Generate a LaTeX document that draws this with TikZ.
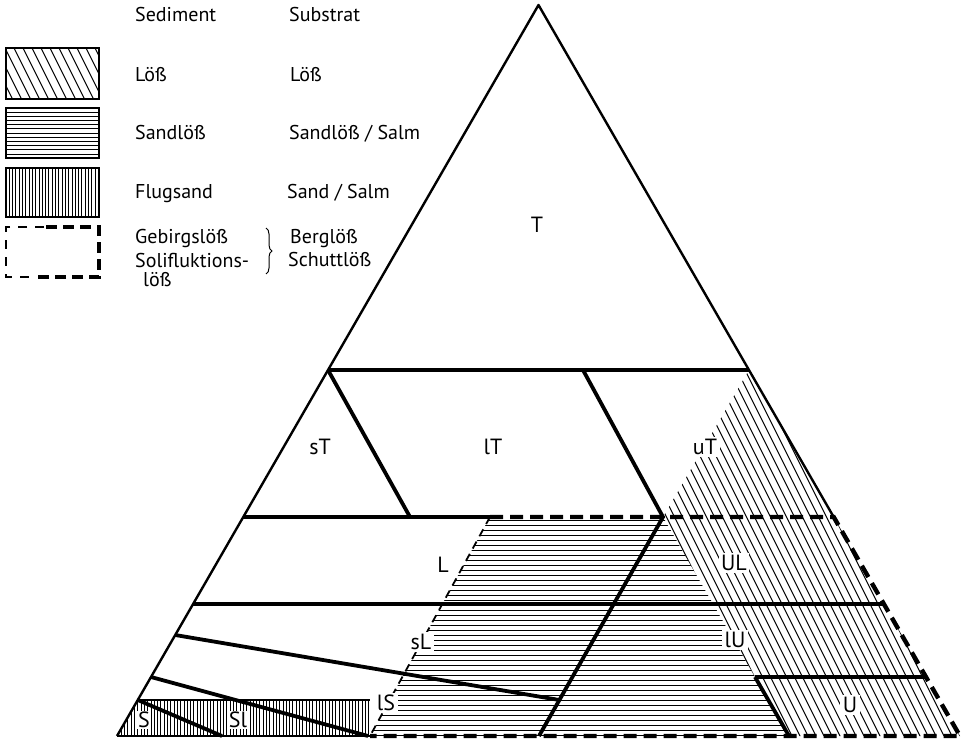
\documentclass[tikz,border=0pt]{standalone}
\usepackage{fontspec}
\setmainfont{PT Sans}
\usetikzlibrary{decorations.pathreplacing}
\begin{document}
\begin{tikzpicture}[x=1pt,y=-1pt,
  edge/.style={line width=2.4pt, line join=round},
  bold/.style={line width=3.8pt},
  hatch/.style={line width=1pt},
  gdash/.style={line width=4.4pt, dash pattern=on 13pt off 7pt},
  tdash/.style={line width=1.8pt, dash pattern=on 8pt off 6pt},
  lab/.style={font=\fontsize{22}{24}\selectfont, inner sep=2.5pt},
  wlab/.style={lab, fill=white},
  leg/.style={font=\fontsize{20}{22}\selectfont, anchor=base west, inner sep=0pt},
  legbox/.style={line width=2.4pt}
]
\useasboundingbox (0,0) rectangle (967,741);

% triangle corners and boundary points
\coordinate (A) at (117,736);
\coordinate (B) at (960,736);
\coordinate (C) at (538.5,5);
\coordinate (L50) at (328,370);
\coordinate (R50) at (749,370);
\coordinate (L30) at (243.3,517);
\coordinate (R30) at (833.7,517);
\coordinate (L18) at (193.1,604);
\coordinate (R18) at (883.9,604);
\coordinate (R8) at (926,677);
\coordinate (P1) at (410,517);
\coordinate (P2) at (583,370);
\coordinate (P3) at (663,517);
\coordinate (P4) at (539,736);
\coordinate (L14) at (175.2,635);
\coordinate (P5) at (559.4,700);
\coordinate (L8) at (151,677);
\coordinate (P6) at (368,736);
\coordinate (L5) at (137.8,700);
\coordinate (P7) at (222,736);
\coordinate (F1) at (370,700);
\coordinate (F2) at (370,736);
\coordinate (D1) at (490,517);
\coordinate (D2) at (370,736);
\coordinate (U1) at (755,677);
\coordinate (U2) at (789,736);

% hatching: Löß
\begin{scope}
  \clip (R50) -- (B) -- (U2) -- (U1) -- (P3) -- cycle;
  \foreach \x in {460,468,...,968} \draw[hatch] (\x,360) -- ++(195,390);
\end{scope}
% hatching: Sandlöß
\begin{scope}
  \clip (D1) -- (P3) -- (U1) -- (U2) -- (D2) -- cycle;
  \foreach \y in {520,525,...,736} \draw[hatch] (360,\y) -- (800,\y);
\end{scope}
% hatching: Flugsand
\begin{scope}
  \clip (L5) -- (F1) -- (F2) -- (A) -- cycle;
  \foreach \i in {0,...,77} \draw[line width=0.9pt] ({118+3.3*\i},696) -- ++(0,44);
\end{scope}

% outline
\draw[edge] (A) -- (C) -- (R30);
\draw[edge] (A) -- (F2);
\draw[gdash] (D1) -- (R30) -- (B) -- (D2);
\draw[tdash] (D1) -- (D2);

% class boundaries
\draw[bold] (L50) -- (R50);
\draw[bold] (L50) -- (P1);
\draw[bold] (P2) -- (P3) -- (P4);
\draw[bold] (L30) -- (D1);
\draw[bold] (L18) -- (R18);
\draw[bold] (U1) -- (R8);
\draw[bold] (U1) -- (U2);
\draw[bold] (L14) -- (P5);
\draw[bold] (L8) -- (P6);
\draw[bold] (L5) -- (P7);
\draw[line width=1.8pt] (L5) -- (F1);

% class labels
\node[lab] (nT) at (537,225) {T};
\node[lab] (nsT) at (320,447) {sT};
\node[lab] (nlT) at (493,447) {lT};
\node[wlab] (nuT) at (705,447) {uT};
\node[lab] (nL) at (443,565) {L};
\node[wlab] (nUL) at (734,563) {UL};
\node[wlab] (nsL) at (421,642) {sL};
\node[wlab] (nlU) at (735,640) {lU};
\node[wlab] (nlS) at (386,703) {lS};
\node[wlab, inner sep=1.5pt] (nS) at (144,720) {S};
\node[wlab, inner sep=1.5pt] (nSl) at (238,720) {Sl};
\node[wlab] (nU) at (850,705) {U};

% legend
\node[leg] (hSed) at (135,22) {Sediment};
\node[leg] (hSub) at (289,22) {Substrat};

\begin{scope}
  \clip (6,48) rectangle (99,99);
  \foreach \x in {-40,-31,...,104} \draw[hatch] (\x,48) -- ++(25.5,51);
\end{scope}
\draw[legbox] (6,48) rectangle (99,99);
\node[leg] (s1) at (135,82) {Löß};
\node[leg] (t1) at (290,82) {Löß};

\foreach \i in {1,...,11} \draw[hatch] (6,{108+4.2*\i}) -- (99,{108+4.2*\i});
\draw[legbox] (6,108) rectangle (99,158);
\node[leg] (s2) at (135,140) {Sandlöß};
\node[leg] (t2) at (289,140) {Sandlöß / Salm};

\foreach \i in {1,...,27} \draw[line width=0.9pt] ({6+3.3*\i},168) -- ({6+3.3*\i},217);
\draw[legbox] (6,168) rectangle (99,217);
\node[leg] (s3) at (135,198) {Flugsand};
\node[leg] (t3) at (287,198) {Sand / Salm};

\coordinate (G1) at (6,227);
\coordinate (G2) at (99,227);
\coordinate (G3) at (99,277);
\coordinate (G4) at (6,277);
\draw[line width=1.8pt, dash pattern=on 9pt off 8pt] (44,227) -- (G1) -- (G4) -- (36,277);
\draw[line width=4.2pt, dash pattern=on 11pt off 6pt] (46,227) -- (G2) -- (G3) -- (38,277);
\node[leg] (s4) at (135,243) {Gebirgslöß};
\node[leg] (s5) at (135,267) {Solifluktions-};
\node[leg] (s6) at (143,286) {löß};
\coordinate (K1) at (266,228);
\coordinate (K2) at (266,274);
\draw[line width=1pt, decorate, decoration={brace, amplitude=6pt}] (K1) -- (K2);
\node[leg] (t4) at (290,243) {Berglöß};
\node[leg] (t5) at (288,266) {Schuttlöß};
\end{tikzpicture}
\end{document}
